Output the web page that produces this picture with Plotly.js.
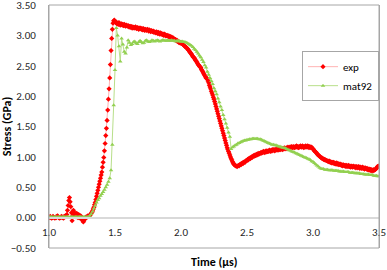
<!DOCTYPE html>
<html>
<head>
<meta charset="utf-8">
<script src="https://cdn.plot.ly/plotly-3.0.1.min.js"></script>
<style>html,body{margin:0;padding:0;background:#fff;}#chart{width:387px;height:270px;}</style>
</head>
<body>
<div id="chart"></div>
<script>
// Time axis settings (µs)
const expStart = 1.0, expStep = 0.005;
const matStart = 1.0, matStep = 0.01;
const seriesNames = ["exp", "mat92"];
const xTitle = "Time (µs)";
const yTitle = "Stress (GPa)";
const xTicks = [1.0, 1.5, 2.0, 2.5, 3.0, 3.5];
const yTicks = [-0.5, 0, 0.5, 1.0, 1.5, 2.0, 2.5, 3.0, 3.5];

// exp stress (GPa), one value per 0.005 µs from 1.00 to 3.50
const expStress = [
0.00,0.01,0.02,0.00,-0.01,0.00,0.02,0.01,0.00,-0.01,0.01,0.00,0.02,0.03,0.01,0.00,-0.01,0.00,0.01,0.02,
0.00,0.01,-0.01,0.02,0.01,0.03,0.02,0.05,0.12,0.20,0.28,0.33,0.26,0.18,0.08,-0.05,0.04,0.12,0.09,0.03,
0.06,0.01,0.07,0.03,0.00,0.05,0.02,-0.01,0.03,0.00,-0.03,-0.05,-0.07,-0.05,-0.02,0.00,0.01,0.00,0.02,0.03,
0.02,0.03,0.04,0.05,0.07,0.09,0.11,0.14,0.17,0.21,0.25,0.30,0.35,0.40,0.45,0.50,0.55,0.60,0.65,0.70,
0.75,0.83,0.91,0.99,1.10,1.22,1.35,1.47,1.60,1.77,1.95,2.12,2.30,2.52,2.75,2.95,3.10,3.20,3.24,3.25,
3.23,3.21,3.22,3.19,3.20,3.18,3.21,3.19,3.17,3.18,3.19,3.17,3.18,3.16,3.18,3.17,3.15,3.17,3.16,3.15,
3.16,3.14,3.15,3.13,3.15,3.14,3.12,3.14,3.13,3.12,3.13,3.14,3.12,3.11,3.13,3.12,3.10,3.12,3.11,3.12,
3.10,3.11,3.09,3.11,3.10,3.08,3.10,3.09,3.08,3.10,3.09,3.07,3.09,3.08,3.06,3.08,3.07,3.06,3.07,3.05,
3.06,3.05,3.04,3.06,3.04,3.03,3.05,3.03,3.02,3.04,3.02,3.03,3.01,3.02,3.00,3.02,3.01,2.99,3.00,2.99,
3.00,2.98,2.99,2.97,2.98,2.96,2.97,2.95,2.96,2.94,2.94,2.93,2.93,2.91,2.92,2.90,2.90,2.88,2.89,2.87,
2.88,2.87,2.86,2.85,2.84,2.83,2.82,2.81,2.80,2.79,2.78,2.76,2.75,2.73,2.72,2.70,2.69,2.67,2.65,2.64,
2.63,2.61,2.59,2.58,2.56,2.54,2.52,2.51,2.49,2.48,2.47,2.44,2.42,2.40,2.38,2.36,2.34,2.32,2.30,2.29,
2.28,2.25,2.22,2.18,2.15,2.12,2.08,2.05,2.02,1.98,1.95,1.91,1.87,1.83,1.79,1.75,1.71,1.67,1.63,1.59,
1.55,1.51,1.47,1.43,1.39,1.35,1.31,1.27,1.23,1.19,1.15,1.12,1.09,1.06,1.03,1.00,0.97,0.95,0.92,0.90,
0.88,0.87,0.86,0.85,0.85,0.84,0.85,0.86,0.85,0.87,0.88,0.87,0.89,0.90,0.89,0.91,0.92,0.91,0.93,0.94,
0.94,0.96,0.95,0.97,0.98,0.97,0.99,1.00,0.99,1.01,1.02,1.01,1.03,1.02,1.04,1.03,1.05,1.04,1.06,1.05,
1.06,1.07,1.06,1.08,1.07,1.09,1.08,1.07,1.09,1.10,1.08,1.09,1.10,1.09,1.11,1.10,1.09,1.11,1.10,1.12,
1.11,1.12,1.10,1.12,1.11,1.13,1.12,1.11,1.13,1.12,1.14,1.12,1.13,1.14,1.12,1.14,1.13,1.15,1.14,1.13,
1.15,1.14,1.16,1.15,1.14,1.16,1.15,1.17,1.16,1.15,1.17,1.16,1.15,1.17,1.16,1.18,1.16,1.17,1.15,1.17,
1.16,1.18,1.17,1.16,1.18,1.17,1.15,1.17,1.16,1.18,1.17,1.16,1.18,1.17,1.15,1.17,1.16,1.15,1.16,1.14,
1.13,1.12,1.10,1.09,1.08,1.07,1.05,1.04,1.03,1.02,1.01,1.00,0.99,0.98,0.98,0.97,0.96,0.96,0.95,0.95,
0.94,0.94,0.93,0.93,0.92,0.93,0.91,0.92,0.90,0.91,0.90,0.91,0.89,0.90,0.89,0.88,0.90,0.88,0.89,0.87,
0.88,0.87,0.88,0.86,0.87,0.85,0.87,0.86,0.85,0.86,0.84,0.86,0.85,0.84,0.86,0.84,0.85,0.83,0.85,0.84,
0.83,0.85,0.84,0.83,0.84,0.82,0.84,0.83,0.82,0.84,0.83,0.81,0.83,0.82,0.81,0.83,0.81,0.82,0.80,0.82,
0.81,0.80,0.81,0.79,0.80,0.78,0.80,0.79,0.77,0.79,0.78,0.77,0.79,0.78,0.79,0.80,0.81,0.83,0.84,0.85,
0.84
];

// mat92 stress (GPa), one value per 0.01 µs from 1.00 to 3.50
const matStress = [
0.01,0.01,0.01,0.01,0.01,0.01,0.01,0.01,0.01,0.01,
0.01,0.01,0.01,0.01,0.01,0.01,0.01,0.01,0.01,0.01,
0.01,0.01,0.01,0.01,0.01,0.01,0.01,0.01,0.01,0.01,
0.01,0.03,0.06,0.10,0.15,0.20,0.25,0.29,0.32,0.36,
0.39,0.42,0.46,0.50,0.54,0.59,0.65,0.78,1.20,1.85,
2.43,3.12,3.00,2.82,2.57,2.95,2.85,2.73,2.70,2.80,
2.92,2.88,2.84,2.86,2.89,2.90,2.87,2.86,2.89,2.91,
2.89,2.87,2.88,2.91,2.92,2.90,2.89,2.90,2.92,2.91,
2.90,2.91,2.92,2.91,2.90,2.91,2.92,2.92,2.91,2.91,
2.92,2.91,2.91,2.92,2.91,2.91,2.90,2.91,2.91,2.90,
2.90,2.90,2.89,2.89,2.88,2.87,2.86,2.84,2.83,2.81,
2.78,2.76,2.73,2.70,2.67,2.64,2.60,2.56,2.51,2.47,
2.40,2.35,2.30,2.25,2.20,2.13,2.08,2.03,1.96,1.90,
1.83,1.77,1.69,1.62,1.55,1.48,1.40,1.33,1.13,1.16,
1.17,1.19,1.20,1.22,1.23,1.24,1.25,1.26,1.27,1.27,
1.28,1.28,1.29,1.29,1.30,1.30,1.30,1.30,1.30,1.29,
1.29,1.28,1.27,1.26,1.25,1.24,1.23,1.22,1.21,1.20,
1.20,1.19,1.19,1.18,1.17,1.17,1.16,1.15,1.15,1.14,
1.13,1.12,1.11,1.10,1.09,1.08,1.07,1.06,1.05,1.04,
1.03,1.02,1.01,1.00,0.99,0.98,0.97,0.96,0.95,0.93,
0.92,0.90,0.88,0.86,0.84,0.82,0.81,0.80,0.80,0.79,
0.79,0.79,0.78,0.78,0.78,0.78,0.77,0.77,0.77,0.77,
0.76,0.76,0.76,0.76,0.75,0.75,0.75,0.75,0.74,0.74,
0.74,0.74,0.73,0.73,0.73,0.73,0.72,0.72,0.72,0.71,
0.71,0.71,0.71,0.70,0.70,0.70,0.69,0.69,0.69,0.68,
0.68
];

const FONT = "Carlito, Lato, 'Liberation Sans', sans-serif";

const traces = [
  {
    type: "scatter", mode: "lines+markers", name: seriesNames[0],
    x0: expStart, dx: expStep, y: expStress,
    line: {color: "#ffb3b3", width: 1},
    marker: {symbol: "diamond", size: 4, color: "#ff0000"}
  },
  {
    type: "scatter", mode: "lines+markers", name: seriesNames[1],
    x0: matStart, dx: matStep, y: matStress,
    line: {color: "#b8df8a", width: 1},
    marker: {symbol: "triangle-up", size: 4, color: "#92d050"}
  }
];

const layout = {
  width: 387, height: 270,
  margin: {l: 49, r: 8, t: 5, b: 22},
  paper_bgcolor: "#ffffff", plot_bgcolor: "#ffffff",
  font: {family: FONT, size: 11, color: "#262626"},
  showlegend: true,
  xaxis: {
    range: [1.0, 3.5], tickmode: "array", tickvals: xTicks, tickformat: ".1f",
    anchor: "free", position: 0.125,
    showline: true, linecolor: "#d9d9d9", linewidth: 2,
    ticks: "", showgrid: false, zeroline: false, ticklabelstandoff: 4,
    ticklabeloverflow: "allow",
    tickfont: {family: FONT, size: 11, color: "#262626"}
  },
  yaxis: {
    range: [-0.5, 3.5], tickmode: "array", tickvals: yTicks, tickformat: ".2f",
    showline: true, linecolor: "#a6a6a6", linewidth: 1, mirror: true,
    ticks: "", showgrid: false, zeroline: false, ticklabelstandoff: 10,
    ticklabeloverflow: "allow",
    tickfont: {family: FONT, size: 11, color: "#262626"},
    title: {text: "<b>" + yTitle + "</b>", font: {family: FONT, size: 12, color: "#000"}, standoff: 4}
  },
  shapes: [
    {type: "rect", xref: "paper", yref: "paper", x0: 0, x1: 1, y0: 0, y1: 1,
     line: {color: "#a6a6a6", width: 1}, layer: "above"}
  ],
  annotations: [
    {xref: "paper", yref: "paper", x: 0.5, y: 0, yanchor: "middle", yshift: -14,
     showarrow: false, text: "<b>" + xTitle + "</b>",
     font: {family: FONT, size: 12, color: "#000"}}
  ],
  legend: {
    x: 1, xanchor: "right", y: 0.81, yanchor: "top",
    bgcolor: "#ffffff", bordercolor: "#a6a6a6", borderwidth: 1,
    font: {family: FONT, size: 11, color: "#000"},
    itemwidth: 30, tracegroupgap: 0, itemsizing: "trace"
  }
};

Plotly.newPlot("chart", traces, layout, {displayModeBar: false, staticPlot: true});
</script>
</body>
</html>
